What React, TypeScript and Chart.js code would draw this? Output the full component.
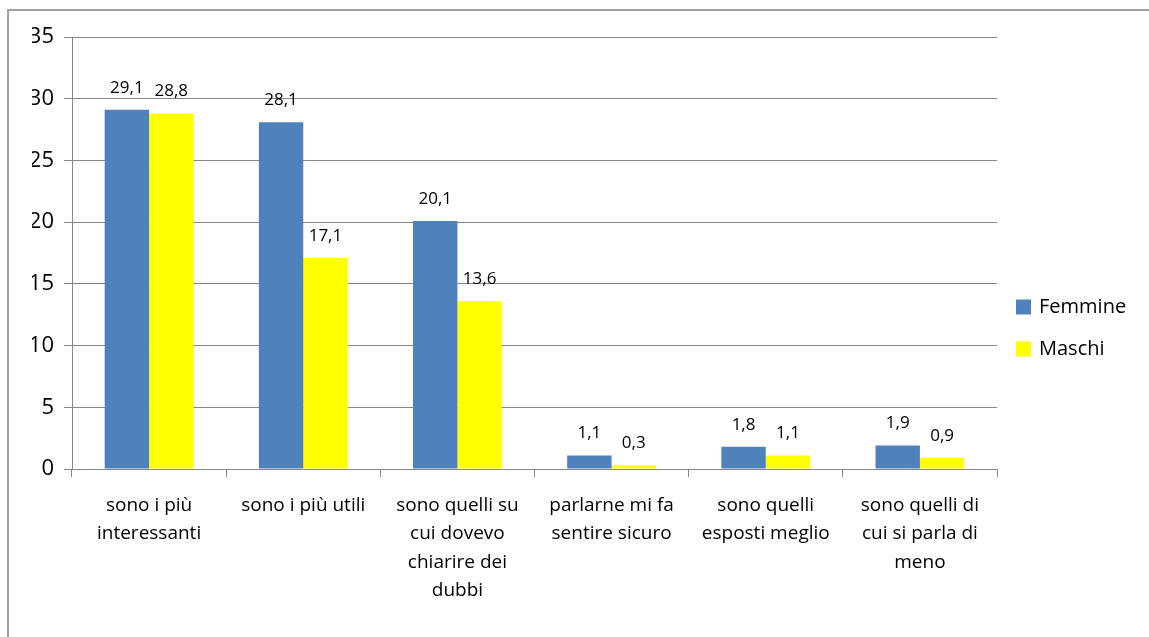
import React, { useEffect, useRef } from "react";
import { Chart, registerables } from "chart.js";

Chart.register(...registerables);

const categories: string[][] = [
  ["sono i più", "interessanti"],
  ["sono i più utili"],
  ["sono quelli su", "cui dovevo", "chiarire dei", "dubbi"],
  ["parlarne mi fa", "sentire sicuro"],
  ["sono quelli", "esposti meglio"],
  ["sono quelli di", "cui si parla di", "meno"],
];
const femmine: number[] = [29.1, 28.1, 20.1, 1.1, 1.8, 1.9];
const maschi: number[] = [28.8, 17.1, 13.6, 0.3, 1.1, 0.9];
const seriesNames: string[] = ["Femmine", "Maschi"];
const seriesColors: string[] = ["#4F81BD", "#FFFF00"];

const FONT = "'Open Sans', 'DejaVu Sans', sans-serif";

const fmt = (v: number) => v.toFixed(1).replace(".", ",");

const dataLabels = {
  id: "dataLabels",
  afterDatasetsDraw(chart: any) {
    const ctx = chart.ctx;
    ctx.save();
    ctx.font = `17px ${FONT}`;
    ctx.fillStyle = "#000";
    ctx.textAlign = "center";
    ctx.textBaseline = "middle";
    chart.data.datasets.forEach((ds: any, i: number) => {
      const meta = chart.getDatasetMeta(i);
      meta.data.forEach((bar: any, j: number) => {
        ctx.fillText(fmt(ds.data[j]), bar.x, bar.y - 22);
      });
    });
    ctx.restore();
  },
};

const sideLegend = {
  id: "sideLegend",
  afterDraw(chart: any) {
    const ctx = chart.ctx;
    ctx.save();
    ctx.font = `20px ${FONT}`;
    ctx.textAlign = "left";
    ctx.textBaseline = "middle";
    const x = chart.chartArea.right + 19;
    const y0 = 307;
    const gap = 42;
    chart.data.datasets.forEach((ds: any, i: number) => {
      const y = y0 + i * gap;
      ctx.fillStyle = ds.backgroundColor;
      ctx.fillRect(x, y - 7.5, 15, 15);
      ctx.fillStyle = "#000";
      ctx.fillText(ds.label, x + 23, y);
    });
    ctx.restore();
  },
};

export default function App() {
  const ref = useRef<HTMLCanvasElement>(null);

  useEffect(() => {
    if (!ref.current) return;
    const chart = new Chart(ref.current, {
      type: "bar",
      data: {
        labels: categories,
        datasets: [
          { label: seriesNames[0], data: femmine, backgroundColor: seriesColors[0] },
          { label: seriesNames[1], data: maschi, backgroundColor: seriesColors[1] },
        ],
      },
      options: {
        responsive: false,
        animation: false,
        devicePixelRatio: 1,
        layout: { padding: { left: 32, top: 37, right: 152, bottom: 8 } },
        datasets: { bar: { categoryPercentage: 0.576, barPercentage: 1 } },
        plugins: {
          legend: { display: false },
          tooltip: { enabled: false },
        },
        scales: {
          x: {
            afterFit: (s: any) => {
              s.height = 160;
            },
            grid: {
              drawOnChartArea: false,
              drawTicks: true,
              tickLength: 8,
              color: "#868686",
              offset: true,
            },
            border: { color: "#868686" },
            ticks: {
              color: "#000",
              padding: 14,
              maxRotation: 0,
              autoSkip: false,
              font: { family: FONT, size: 19, lineHeight: 1.5 },
            },
          },
          y: {
            min: 0,
            max: 35,
            afterFit: (s: any) => {
              s.width = 40;
            },
            grid: { color: "#868686", tickLength: 8 },
            border: { color: "#868686" },
            ticks: {
              stepSize: 5,
              color: "#000",
              padding: 10,
              font: { family: FONT, size: 22 },
            },
          },
        },
      },
      plugins: [dataLabels, sideLegend],
    });
    return () => chart.destroy();
  }, []);

  return (
    <div
      style={{
        position: "fixed",
        left: 0,
        top: 0,
        width: 1149,
        height: 637,
        background: "#fff",
        overflow: "hidden",
      }}
    >
      <div
        style={{
          position: "absolute",
          left: 7,
          top: 9,
          width: 1300,
          height: 800,
          borderLeft: "2px solid #a0a0a0",
          borderTop: "2px solid #a0a0a0",
        }}
      />
      <canvas
        ref={ref}
        width={1149}
        height={637}
        style={{ position: "absolute", left: 0, top: 0, width: 1149, height: 637 }}
      />
    </div>
  );
}
